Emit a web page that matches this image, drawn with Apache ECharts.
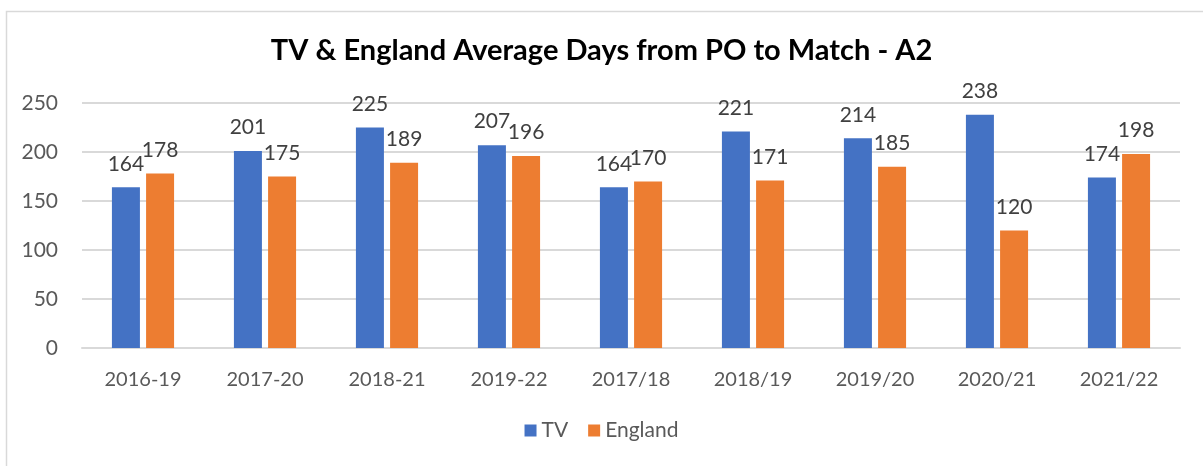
<!DOCTYPE html>
<html>
<head>
<meta charset="utf-8">
<script src="https://cdn.jsdelivr.net/npm/echarts@6/dist/echarts.min.js"></script>
<style>
  html, body { margin: 0; padding: 0; background: #fff; }
  #chart { width: 1203px; height: 466px; }
</style>
</head>
<body>
<div id="chart"></div>
<script>
// data
const categories = ['2016-19', '2017-20', '2018-21', '2019-22', '2017/18', '2018/19', '2019/20', '2020/21', '2021/22']
const tvValues = [164, 201, 225, 207, 164, 221, 214, 238, 174]
const englandValues = [178, 175, 189, 196, 170, 171, 185, 120, 198]

const font = 'Lato, "Open Sans", sans-serif'
const chart = echarts.init(document.getElementById('chart'))

const option = {
  animation: false,
  textStyle: { fontFamily: font },
  title: {
    text: 'TV & England Average Days from PO to Match - A2',
    left: 'center',
    top: 31,
    textStyle: { fontFamily: font, fontSize: 29, fontWeight: 'bold', color: '#000' }
  },
  graphic: [{
    type: 'rect',
    shape: { x: 6.5, y: 11.5, width: 1250, height: 500 },
    style: { fill: 'none', stroke: '#d9d9d9', lineWidth: 1.5 },
    silent: true
  }],
  legend: {
    bottom: 20,
    left: 'center',
    itemWidth: 12,
    itemHeight: 12,
    itemGap: 20,
    icon: 'rect',
    textStyle: { fontFamily: font, fontSize: 21, color: '#595959' },
    data: ['TV', 'England']
  },
  grid: { left: 82, right: 23, top: 103, bottom: 118, containLabel: false },
  xAxis: {
    type: 'category',
    data: categories,
    axisLine: { lineStyle: { color: '#d9d9d9', width: 2 } },
    axisTick: { show: false },
    axisLabel: { fontFamily: font, fontSize: 20, color: '#595959', margin: 22 }
  },
  yAxis: {
    type: 'value',
    min: 0,
    max: 250,
    interval: 50,
    axisLine: { show: false },
    axisTick: { show: false },
    axisLabel: { fontFamily: font, fontSize: 21, color: '#595959', margin: 24 },
    splitLine: { lineStyle: { color: '#d9d9d9', width: 2 } }
  },
  series: [
    {
      name: 'TV',
      type: 'bar',
      data: tvValues,
      barWidth: 28,
      barGap: '22%',
      itemStyle: { color: '#4472c4' },
      label: { show: true, position: 'top', distance: 13, fontFamily: font, fontSize: 21, color: '#404040' }
    },
    {
      name: 'England',
      type: 'bar',
      data: englandValues,
      barWidth: 28,
      itemStyle: { color: '#ed7d31' },
      label: { show: true, position: 'top', distance: 13, fontFamily: font, fontSize: 21, color: '#404040' }
    }
  ]
}

chart.setOption(option)
</script>
</body>
</html>
